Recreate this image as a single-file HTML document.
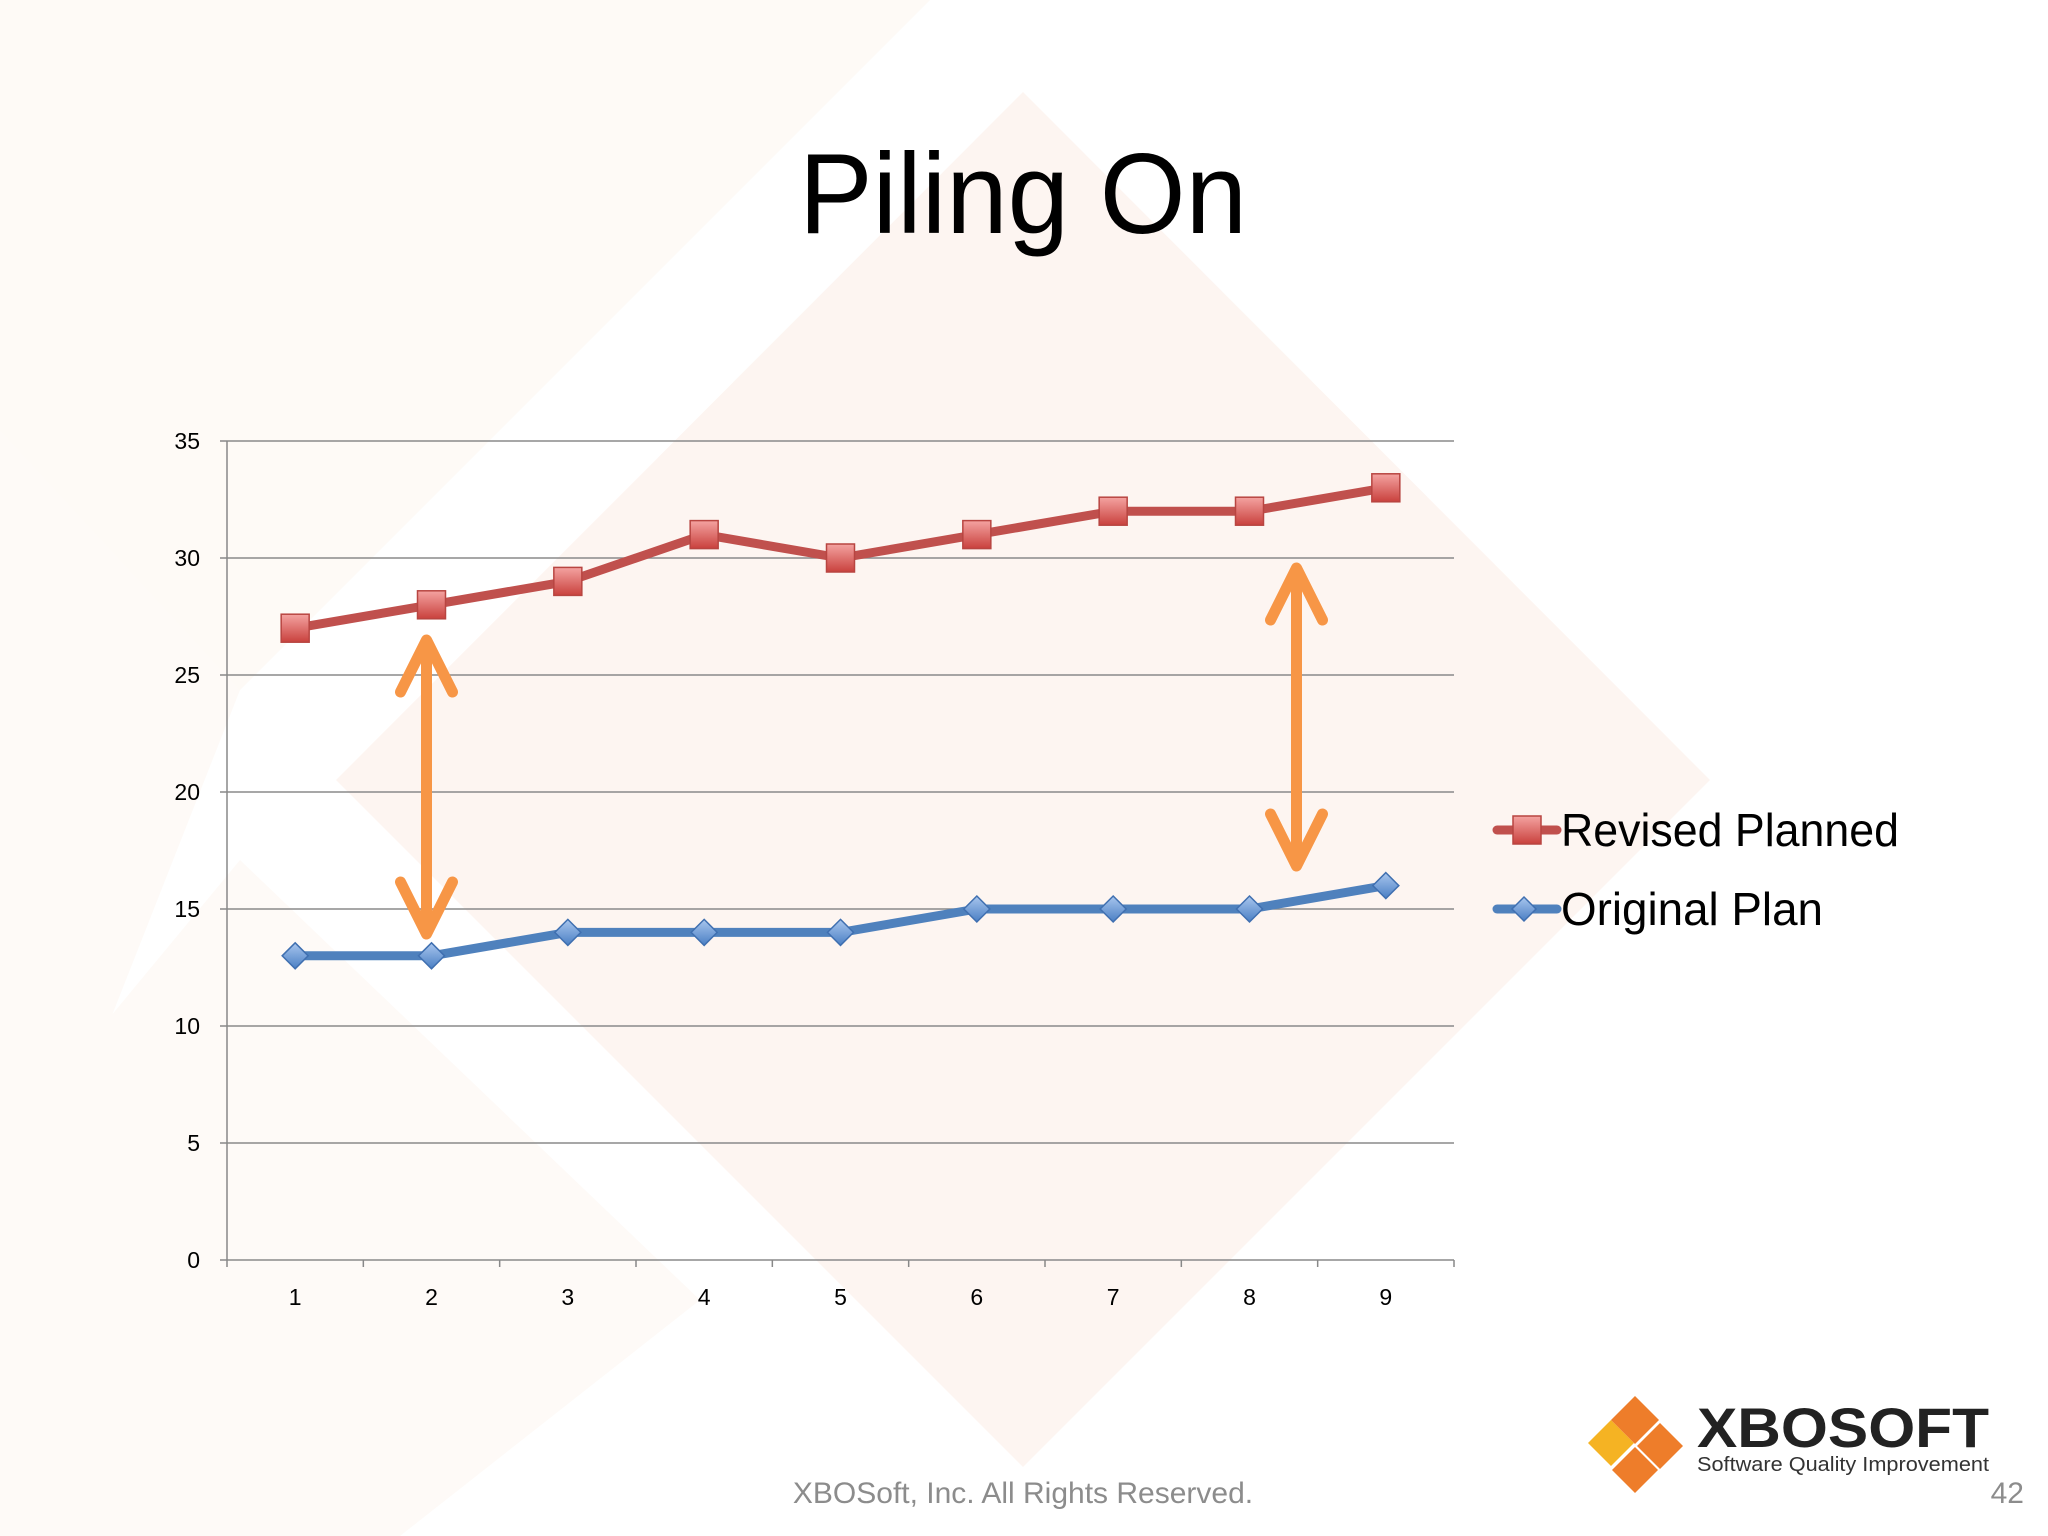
<!DOCTYPE html>
<html><head><meta charset="utf-8"><style>
html,body{margin:0;padding:0;background:#fff;}
svg{display:block;font-family:"Liberation Sans",sans-serif;}
</style></head><body>
<svg id="chart" width="2048" height="1536" viewBox="0 0 2048 1536" xmlns="http://www.w3.org/2000/svg">
<defs>
<linearGradient id="rg" x1="0" y1="0" x2="0" y2="1"><stop offset="0" stop-color="#f4a3a1"/><stop offset="1" stop-color="#c9413d"/></linearGradient>
<linearGradient id="bg" x1="0" y1="0" x2="0" y2="1"><stop offset="0" stop-color="#a9c6ee"/><stop offset="1" stop-color="#4a7fc4"/></linearGradient>
</defs>
<rect width="2048" height="1536" fill="#fff"/>
<polygon points="0,0 930,0 0,930" fill="#fefaf6"/>
<polygon points="1023,92 1710,780 1023,1467 336,780" fill="#fdf5f1"/>
<polygon points="0,430 240,690 0,1300" fill="#fefaf7"/>
<polygon points="240,860 700,1300 400,1536 0,1536 0,1150" fill="#fefaf7"/>
<text x="1023" y="233" font-size="114" text-anchor="middle" fill="#000" textLength="448" lengthAdjust="spacingAndGlyphs">Piling On</text>
<g id="grid"></g><g id="axes"></g><g id="arrows"></g><g id="series"></g>
<g>
<line x1="1497" y1="830" x2="1557" y2="830" stroke="#C0504D" stroke-width="9" stroke-linecap="round"/>
<rect x="1513" y="816" width="28" height="28" fill="url(#rg)" stroke="#b84541" stroke-width="1.5"/>
<text x="1561" y="846" font-size="46" fill="#000" textLength="338" lengthAdjust="spacingAndGlyphs">Revised Planned</text>
<line x1="1497" y1="909" x2="1557" y2="909" stroke="#4F81BD" stroke-width="9" stroke-linecap="round"/>
<polygon points="1524,897 1536,909 1524,921 1512,909" fill="url(#bg)" stroke="#3f6fb0" stroke-width="1.5"/>
<text x="1561" y="925" font-size="46" fill="#000" textLength="262" lengthAdjust="spacingAndGlyphs">Original Plan</text>
</g>
<g>
<polygon points="1588,1443 1611,1420 1634,1443 1611,1466" fill="#f5b323"/>
<polygon points="1611,1420 1635,1396 1659,1420 1635,1444" fill="#ee7d2a"/>
<polygon points="1637,1446 1660,1423 1683,1446 1660,1469" fill="#ee7d2a"/>
<polygon points="1612,1470 1635,1447 1658,1470 1635,1493" fill="#ee7d2a"/>
<text x="1697" y="1447" font-size="56" font-weight="bold" fill="#222" textLength="292" lengthAdjust="spacingAndGlyphs">XBOSOFT</text>
<text x="1697" y="1471" font-size="20" fill="#333" textLength="292" lengthAdjust="spacingAndGlyphs">Software Quality Improvement</text>
</g>
<text x="1023" y="1503" font-size="30" text-anchor="middle" fill="#8c8c8c">XBOSoft, Inc. All Rights Reserved.</text>
<text x="2024" y="1503" font-size="30" text-anchor="end" fill="#8c8c8c">42</text>
</svg>
<script>
const categories=[1,2,3,4,5,6,7,8,9];
const revised=[27,28,29,31,30,31,32,32,33];
const original=[13,13,14,14,14,15,15,15,16];
const yTicks=[0,5,10,15,20,25,30,35];
const NS="http://www.w3.org/2000/svg";
const L=227,R=1454,T=441,B=1260,yMax=35;
const step=(R-L)/categories.length;
const xS=i=>L+(i+0.5)*step;
const yS=v=>B-(v/yMax)*(B-T);
function mk(tag,attrs,parent){const e=document.createElementNS(NS,tag);for(const k in attrs)e.setAttribute(k,attrs[k]);document.getElementById(parent).appendChild(e);return e;}
yTicks.forEach(v=>{
 const g=mk('line',{x1:L,x2:R,y1:yS(v),y2:yS(v),stroke:'#8a8a8a','stroke-width':1.5},'grid');
 
 
 mk('line',{x1:L-7,x2:L,y1:yS(v),y2:yS(v),stroke:'#888','stroke-width':1.5},'axes');
 const t=mk('text',{x:L-27,y:yS(v)+8,'font-size':23,'text-anchor':'end',fill:'#000'},'axes');
 t.textContent=v;
 
 
});
const ya=mk('line',{x1:L,x2:L,y1:T,y2:B,stroke:'#888','stroke-width':1.5},'axes');


for(let i=0;i<=categories.length;i++){mk('line',{x1:L+i*step,x2:L+i*step,y1:B,y2:B+7,stroke:'#888','stroke-width':1.5},'axes');}
categories.forEach((c,i)=>{
 const t=mk('text',{x:xS(i),y:B+45,'font-size':23,'text-anchor':'middle',fill:'#000'},'axes');
 t.textContent=c;
 
 
});
function arrow(x,y1,y2,name){
 const g=mk('g',{},'arrows');
 
 
 const p=document.createElementNS(NS,'path');
 p.setAttribute('d',`M${x},${y1+6}L${x},${y2-6}M${x-26},${y1+52}L${x},${y1}L${x+26},${y1+52}M${x-26},${y2-52}L${x},${y2}L${x+26},${y2-52}`);
 p.setAttribute('stroke','#F79646');p.setAttribute('stroke-width',11);p.setAttribute('fill','none');p.setAttribute('stroke-linecap','round');p.setAttribute('stroke-linejoin','round');
 g.appendChild(p);
}
arrow(xS(1)-5,640,934,'gap-arrow-2');
arrow(xS(7)+47,568,866,'gap-arrow-8');
function series(vals,color,name,marker){
 const pl=mk('polyline',{points:vals.map((v,i)=>xS(i)+','+yS(v)).join(' '),fill:'none',stroke:color,'stroke-width':9,'stroke-linejoin':'round'},'series');
 
 
 vals.forEach((v,i)=>{
  const x=xS(i),y=yS(v);let m;
  if(marker==='sq') m=mk('rect',{x:x-14,y:y-14,width:28,height:28,fill:'url(#rg)',stroke:'#b84541','stroke-width':1.5},'series');
  else m=mk('polygon',{points:`${x},${y-13} ${x+13},${y} ${x},${y+13} ${x-13},${y}`,fill:'url(#bg)',stroke:'#3f6fb0','stroke-width':1.5},'series');
  
  
 });
}
series(original,'#4F81BD','original-plan','dm');
series(revised,'#C0504D','revised-planned','sq');
</script>
</body></html>
